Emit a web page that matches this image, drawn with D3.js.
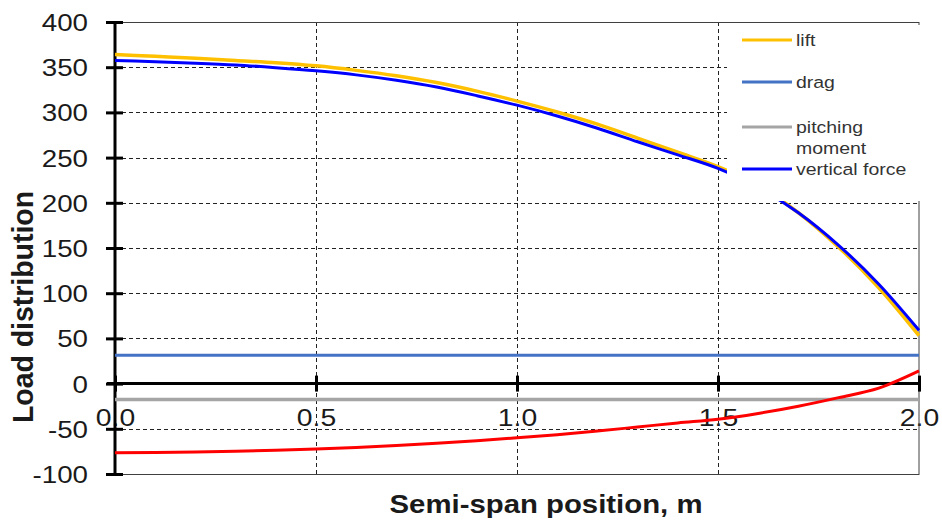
<!DOCTYPE html>
<html>
<head>
<meta charset="utf-8">
<script src="https://cdn.jsdelivr.net/npm/d3@7"></script>
<style>
  body { margin: 0; background: #fff; }
  svg { display: block; }
  text { font-family: "Liberation Sans", Arial, sans-serif; }
</style>
</head>
<body>
<svg id="chart" width="942" height="522"></svg>
<script>
// Spanwise stations (m)
const span = [0.0, 0.1, 0.2, 0.3, 0.4, 0.5, 0.6, 0.7, 0.8, 0.9, 1.0,
              1.1, 1.2, 1.3, 1.4, 1.5, 1.6, 1.7, 1.8, 1.9, 2.0];
const lift = [364, 362, 360, 357.5, 355, 351.5, 346.5, 340.5, 333, 323.5, 312.5,
              300.5, 287, 271.5, 256, 240, 219, 189, 151, 106, 53];
const verticalForce = [357.5, 356, 354.5, 352.5, 349.5, 346, 341.5, 335.5, 328, 318.5, 308,
                       296, 282.5, 267.5, 253, 238, 217, 189, 153, 110, 59];
const unlabeled = [-76.5, -76.2, -75.6, -74.8, -73.7, -72.3, -70.6, -68.5, -66, -63.2, -60,
                   -56.5, -52.5, -48, -43.5, -39.5, -33, -25, -15.5, -5, 14];
// Constant distributions along the span
const spanEnds = [0.0, 2.0];
const drag = [31.3, 31.3];
const pitchingMoment = [-17.7, -17.7];

const xTicks = [0.0, 0.5, 1.0, 1.5, 2.0];
const yTicks = [-100, -50, 0, 50, 100, 150, 200, 250, 300, 350, 400];

const legendNames = [["lift"], ["drag"], ["pitching", "moment"], ["vertical force"]];
const legendColors = ["#FFC000", "#4472C4", "#A5A5A5", "#0000FF"];

const SX = 1.18; // horizontal glyph stretch used for all text

const svg = d3.select("#chart");
const x = d3.scaleLinear().domain([0, 2]).range([115, 919]);
const y = d3.scaleLinear().domain([-100, 400]).range([474, 22]);

// ---- tick labels (under the grid, as in the original plot) ----
const yLab = svg.append("g").attr("transform", `translate(${x(0)},0)`)
  .call(d3.axisLeft(y).tickValues(yTicks).tickSize(0).tickFormat(d => String(d)));
yLab.select(".domain").remove();
yLab.selectAll("text")
  .attr("x", -27 / SX).attr("dy", "0.36em")
  .attr("transform", `scale(${SX},1)`)
  .style("font-size", "23.5px").attr("fill", "#1a1a1a");

const xLab = svg.append("g").attr("transform", `translate(0,${y(0)})`)
  .call(d3.axisBottom(x).tickValues(xTicks).tickSize(0).tickFormat(d3.format(".1f")));
xLab.select(".domain").remove();
xLab.selectAll("text")
  .attr("y", 42).attr("dy", 0)
  .attr("transform", `scale(${SX},1)`)
  .style("font-size", "24px").attr("fill", "#1a1a1a");

// ---- dashed grid ----
const grid = svg.append("g").attr("stroke", "#222").attr("stroke-width", 1)
  .attr("stroke-dasharray", "4,3").attr("fill", "none");
grid.selectAll(".hg").data(yTicks.filter(v => v !== 0 && v !== 400 && v !== -100))
  .join("line")
  .attr("x1", x(0)).attr("x2", x(2))
  .attr("y1", d => Math.round(y(d)) + 0.5).attr("y2", d => Math.round(y(d)) + 0.5);
grid.selectAll(".vg").data(xTicks.filter(v => v !== 0 && v !== 2))
  .join("line")
  .attr("y1", y(400)).attr("y2", y(-100))
  .attr("x1", d => Math.round(x(d)) + 0.5).attr("x2", d => Math.round(x(d)) + 0.5);

// ---- plot frame ----
svg.append("rect")
  .attr("x", x(0)).attr("y", y(400) + 0.5)
  .attr("width", x(2) - x(0)).attr("height", y(-100) - y(400))
  .attr("fill", "none").attr("stroke", "#404040").attr("stroke-width", 1);

// ---- axes (thick, ticks crossing the axis line) ----
const yAx = svg.append("g").attr("transform", `translate(${x(0)},0)`)
  .call(d3.axisLeft(y).tickValues(yTicks).tickSize(9).tickFormat(""));
yAx.select(".domain").attr("stroke", "#000").attr("stroke-width", 3);
yAx.selectAll(".tick line").attr("x1", 8).attr("stroke", "#000").attr("stroke-width", 3);
yAx.select(".domain").attr("d", `M0,${y(400)}V${y(-100)}`);

const xAx = svg.append("g").attr("transform", `translate(0,${y(0)})`)
  .call(d3.axisBottom(x).tickValues(xTicks).tickSize(8).tickFormat(""));
xAx.select(".domain").attr("d", `M${x(0) - 8},0H${x(2)}`)
  .attr("stroke", "#000").attr("stroke-width", 3);
xAx.selectAll(".tick line").attr("y1", -8).attr("stroke", "#000").attr("stroke-width", 3);

// ---- series ----
const line = d3.line().x(d => x(d[0])).y(d => y(d[1])).curve(d3.curveMonotoneX);
const series = [
  { xs: spanEnds, ys: drag, color: "#4472C4", w: 3 },
  { xs: spanEnds, ys: pitchingMoment, color: "#A5A5A5", w: 3.5 },
  { xs: span, ys: unlabeled, color: "#FF0000", w: 3 },
  { xs: span, ys: lift, color: "#FFC000", w: 3.5 },
  { xs: span, ys: verticalForce, color: "#0000FF", w: 3 }
];
svg.append("g").selectAll("path").data(series).join("path")
  .attr("d", s => line(s.xs.map((v, i) => [v, s.ys[i]])))
  .attr("fill", "none")
  .attr("stroke", s => s.color)
  .attr("stroke-width", s => s.w)
  .attr("stroke-linecap", "butt");

// ---- legend ----
svg.append("rect").attr("x", 727).attr("y", 25).attr("width", 200).attr("height", 176)
  .attr("fill", "#fff");
const legendY = [40, 82, 127, 169];
const lg = svg.append("g");
legendNames.forEach((lines, i) => {
  lg.append("line")
    .attr("x1", 742).attr("x2", 792)
    .attr("y1", legendY[i]).attr("y2", legendY[i])
    .attr("stroke", legendColors[i]).attr("stroke-width", 3);
  lines.forEach((t, j) => {
    lg.append("text")
      .attr("transform", `translate(796,${legendY[i] + 6 + j * 21}) scale(${SX},1)`)
      .style("font-size", "16.5px").attr("fill", "#333")
      .text(t);
  });
});

// ---- axis titles ----
svg.append("text")
  .attr("transform", "translate(546,513)")
  .attr("text-anchor", "middle")
  .style("font-size", "26.5px").style("font-weight", "bold").attr("fill", "#1a1a1a")
  .attr("textLength", 313).attr("lengthAdjust", "spacingAndGlyphs")
  .text("Semi-span position, m");

svg.append("text")
  .attr("transform", `translate(33,307) scale(${SX},1) rotate(-90)`)
  .attr("text-anchor", "middle")
  .style("font-size", "25px").style("font-weight", "bold").attr("fill", "#1a1a1a")
  .attr("textLength", 232).attr("lengthAdjust", "spacingAndGlyphs")
  .text("Load distribution");
</script>
</body>
</html>
